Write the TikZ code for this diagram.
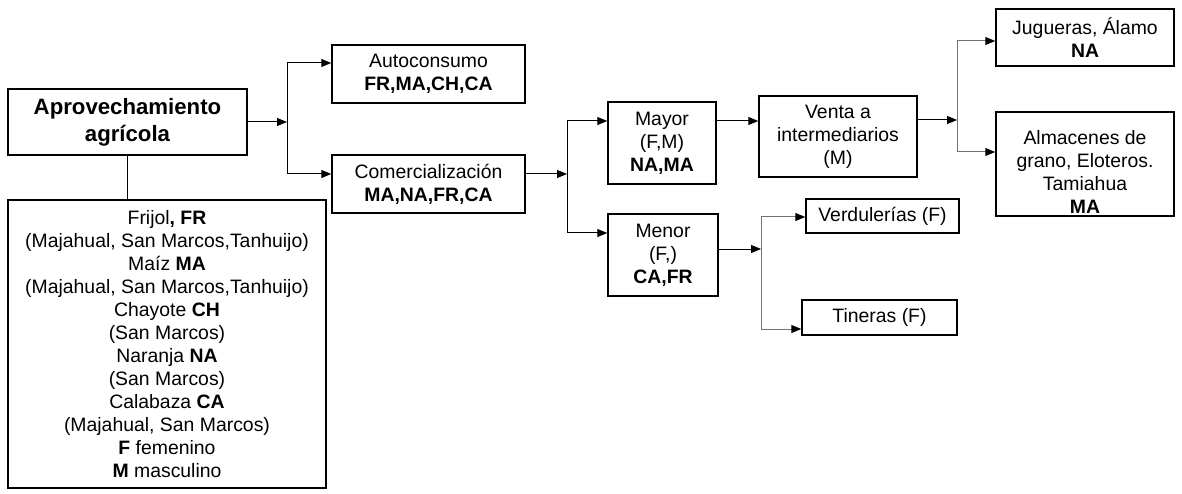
\documentclass[tikz,border=0pt]{standalone}
\usepackage{fontspec}
\setmainfont{Liberation Sans}
\usetikzlibrary{arrows.meta}
\begin{document}
\begin{tikzpicture}[x=1pt,y=-1pt,
  box/.style={draw, line width=1.5pt, align=center, inner sep=0pt, font=\fontsize{19.4}{23}\selectfont},
  txt/.style={align=center, inner sep=0pt, font=\fontsize{19.4}{23}\selectfont},
  link/.style={line width=1pt, draw=black},
  glink/.style={line width=1pt, draw=black!55},
  arr/.style={link, -{Triangle[length=10pt,width=8pt]}},
  garr/.style={glink, -{Triangle[length=10pt,width=8pt,color=black]}},
]
\useasboundingbox (0,0) rectangle (1182,494);
% boxes
\node[box, minimum width=239pt, minimum height=66pt, font=\fontsize{22.2}{27}\selectfont\bfseries] (aprov) at (127.5,122) {Aprovechamiento\\agrícola};
\node[box, minimum width=318pt, minimum height=288pt] (list) at (167,344) {Frijol\textbf{, FR}\\(Majahual, San Marcos,Tanhuijo)\\Maíz \textbf{MA}\\(Majahual, San Marcos,Tanhuijo)\\Chayote \textbf{CH}\\(San Marcos)\\Naranja \textbf{NA}\\(San Marcos)\\Calabaza \textbf{CA}\\(Majahual, San Marcos)\\\textbf{F} femenino\\\textbf{M} masculino};
\node[box, minimum width=193pt, minimum height=58pt] (auto) at (428.5,74) {Autoconsumo\\\textbf{FR,MA,CH,CA}};
\node[box, minimum width=193pt, minimum height=58pt] (comer) at (428.5,184) {Comercialización\\\textbf{MA,NA,FR,CA}};
\node[box, minimum width=108pt, minimum height=82pt] (mayor) at (662,143) {Mayor\\(F,M)\\\textbf{NA,MA}};
\node[box, minimum width=110pt, minimum height=82pt] (menor) at (663,255) {Menor\\(F,)\\\textbf{CA,FR}};
\node[box, minimum width=158pt, minimum height=81pt] (venta) at (838,136.5) {Venta a\\intermediarios\\(M)};
\node[box, minimum width=153pt, minimum height=34pt] (verd) at (882.5,216) {Verdulerías (F)};
\node[box, minimum width=155pt, minimum height=35pt] (tin) at (879.5,317.5) {Tineras (F)};
\node[box, minimum width=178pt, minimum height=57pt] (jug) at (1085,37.5) {Jugueras, Álamo\\\textbf{NA}};
\node[box, minimum width=178pt, minimum height=104pt] (alm) at (1085,164) {};
\node[txt] (almtext) at (1085,172) {Almacenes de\\grano, Eloteros.\\Tamiahua\\\textbf{MA}};
% junction coordinates
\coordinate (j1) at (287,122);
\coordinate (j1a) at (287,63);
\coordinate (j1b) at (287,174);
\coordinate (j2) at (567,174);
\coordinate (j2a) at (567,121);
\coordinate (j2b) at (567,233);
\coordinate (j3) at (761,249);
\coordinate (j3a) at (761,217);
\coordinate (j3b) at (761,329);
\coordinate (j4) at (957,120);
\coordinate (j4a) at (957,41);
\coordinate (j4b) at (957,152);
% connectors
\draw[link] (aprov.south) -- (aprov.south |- list.north);
\draw[arr] (aprov.east |- j1) -- (j1);
\draw[link] (j1a) -- (j1b);
\draw[arr] (j1a) -- (auto.west |- j1a);
\draw[arr] (j1b) -- (comer.west |- j1b);
\draw[arr] (comer.east |- j2) -- (j2);
\draw[link] (j2a) -- (j2b);
\draw[arr] (j2a) -- (mayor.west |- j2a);
\draw[arr] (j2b) -- (menor.west |- j2b);
\draw[arr] (mayor.east |- j2a) -- (venta.west |- j2a);
\draw[arr] (menor.east |- j3) -- (j3);
\draw[glink] (j3a) -- (j3b);
\draw[garr] (j3a) -- (verd.west |- j3a);
\draw[garr] (j3b) -- (tin.west |- j3b);
\draw[arr] (venta.east |- j4) -- (j4);
\draw[glink] (j4a) -- (j4b);
\draw[garr] (j4a) -- (jug.west |- j4a);
\draw[garr] (j4b) -- (alm.west |- j4b);
\end{tikzpicture}
\end{document}
